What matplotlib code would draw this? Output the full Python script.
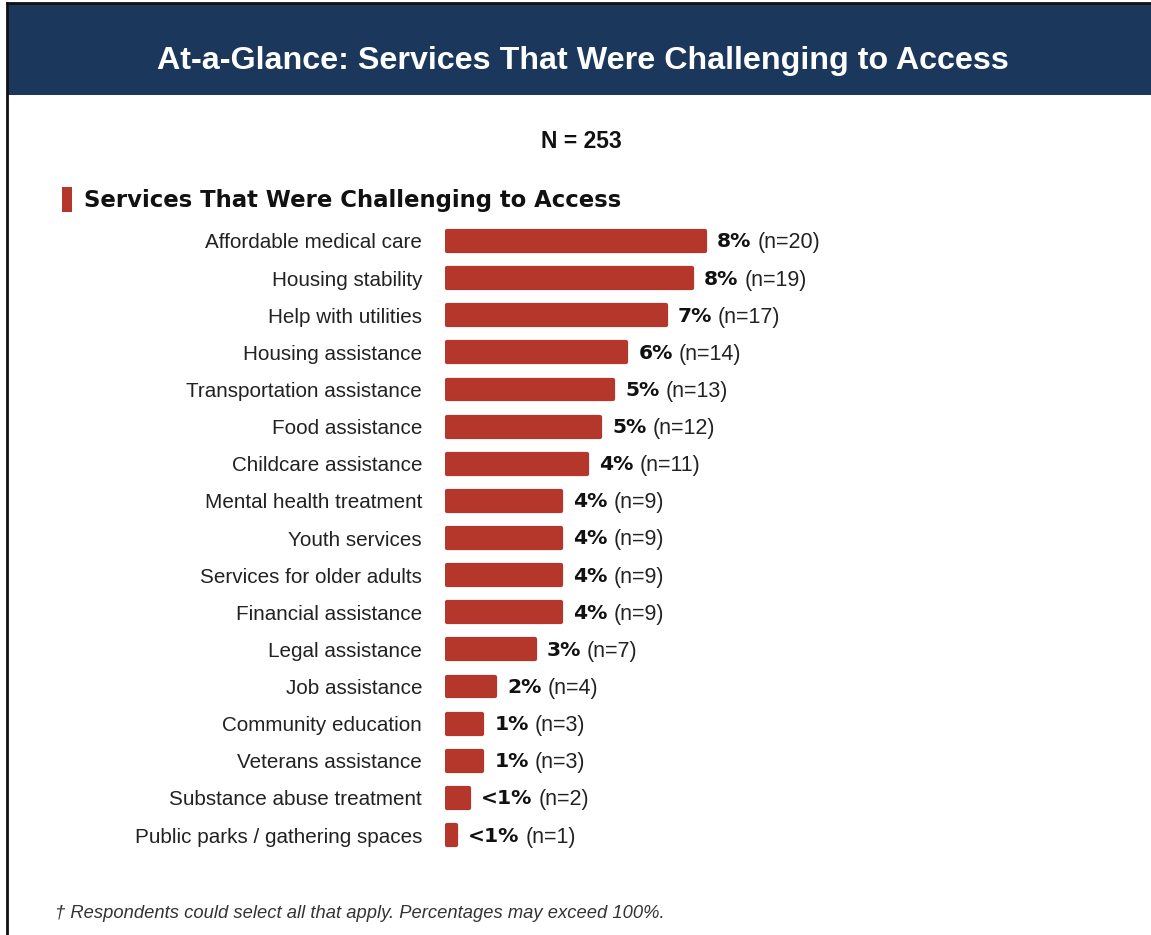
import matplotlib.pyplot as plt
from matplotlib.patches import Rectangle
from matplotlib.lines import Line2D

# datos
servicios = ['Affordable medical care', 'Housing stability', 'Help with utilities',
             'Housing assistance', 'Transportation assistance', 'Food assistance',
             'Childcare assistance', 'Mental health treatment', 'Youth services',
             'Services for older adults', 'Financial assistance', 'Legal assistance',
             'Job assistance', 'Community education', 'Veterans assistance',
             'Substance abuse treatment', 'Public parks / gathering spaces']
conteos = [20, 19, 17, 14, 13, 12, 11, 9, 9, 9, 9, 7, 4, 3, 3, 2, 1]
porcentajes = ['8%', '8%', '7%', '6%', '5%', '5%', '4%', '4%', '4%', '4%', '4%',
               '3%', '2%', '1%', '1%', '<1%', '<1%']
total = 253

W, H = 1151, 935
rojo = '#b5372b'
azul = '#1c375c'

fig = plt.figure(figsize=(W / 100, H / 100), dpi=100)
fig.patch.set_facecolor('white')

# banda del titulo y marco
fig.add_artist(Rectangle((8 / W, 1 - 95 / H), 1, 91 / H, transform=fig.transFigure,
                         facecolor=azul, edgecolor='none'))
fig.add_artist(Line2D([7 / W, 1], [1 - 3 / H, 1 - 3 / H], transform=fig.transFigure,
                      color='#111111', lw=2))
fig.add_artist(Line2D([7 / W, 7 / W], [0, 1 - 3 / H], transform=fig.transFigure,
                      color='#111111', lw=2))
fig.text(583 / W, 1 - 61 / H, 'At-a-Glance: Services That Were Challenging to Access',
         ha='center', va='center', color='white', fontsize=23.2, fontweight='bold',
         family='Liberation Sans')

fig.text(581 / W, 1 - 142 / H, f'N = {total}', ha='center', va='center',
         fontsize=16.5, fontweight='bold', family='Liberation Sans', color='#111111')

# subtitulo con marcador rojo
fig.add_artist(Rectangle((62 / W, 1 - 212 / H), 10 / W, 25 / H, transform=fig.transFigure,
                         facecolor=rojo, edgecolor='none'))
fig.text(84 / W, 1 - 201 / H, 'Services That Were Challenging to Access', ha='left',
         va='center', fontsize=16.4, fontweight='heavy', family='DejaVu Sans',
         color='#111111')

# grafica de barras (escala: 13.1 px por respuesta)
ax = fig.add_axes([445 / W, 1 - 853.6 / H, 655 / W, (853.6 - 222.4) / H])
px_x = 1 / 13.1
px_y = 1 / 37.125
borde = 2.1  # radio de las esquinas en px
y = range(len(servicios))
ax.barh(y, [c - 2 * borde * px_x for c in conteos], left=borde * px_x,
        height=0.65 - 2 * borde * px_y, color=rojo, edgecolor=rojo,
        lw=2 * borde * 0.72, joinstyle='round')
ax.set_xlim(0, 655 / 13.1)
ax.set_ylim(len(servicios) - 0.5, -0.5)
ax.axis('off')

for i, (nombre, c, p) in enumerate(zip(servicios, conteos, porcentajes)):
    ax.annotate(nombre, xy=(0, i), xytext=(-23, -2), textcoords='offset pixels',
                ha='right', va='center', fontsize=14.9, family='Liberation Sans',
                color='#222222')
    t1 = ax.annotate(p, xy=(c, i), xytext=(10, -1), textcoords='offset pixels',
                     ha='left', va='center', fontsize=14.6, fontweight='bold',
                     family='DejaVu Sans', color='#111111')
    ax.annotate(f'(n={c})', xy=(1, 0.5), xycoords=t1, xytext=(6, -1),
                textcoords='offset pixels', ha='left', va='center', fontsize=15.5,
                family='Liberation Sans', color='#222222')

fig.text(55 / W, 1 - 913 / H,
         '† Respondents could select all that apply. Percentages may exceed 100%.',
         ha='left', va='center', fontsize=13.2, style='italic',
         family='Liberation Sans', color='#333333')

plt.savefig('out.png', dpi=100)
